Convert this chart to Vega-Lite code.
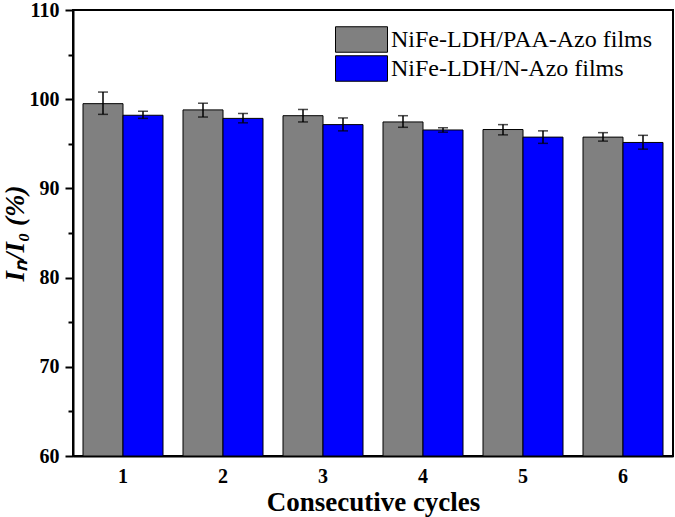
{
  "$schema": "https://vega.github.io/schema/vega-lite/v6.json",
  "width": 600,
  "height": 446,
  "autosize": {"type": "none"},
  "padding": {"left": 73, "top": 10, "right": 2, "bottom": 61},
  "background": "white",
  "config": {
    "view": {"stroke": "black", "strokeWidth": 2},
    "font": "Liberation Serif"
  },
  "data": {
    "values": [
      {"cycle": "1", "series": "NiFe-LDH/PAA-Azo films", "value": 99.5, "lo": 98.3, "hi": 100.8},
      {"cycle": "1", "series": "NiFe-LDH/N-Azo films", "value": 98.2, "lo": 97.85, "hi": 98.65},
      {"cycle": "2", "series": "NiFe-LDH/PAA-Azo films", "value": 98.8, "lo": 98.0, "hi": 99.55},
      {"cycle": "2", "series": "NiFe-LDH/N-Azo films", "value": 97.85, "lo": 97.35, "hi": 98.4},
      {"cycle": "3", "series": "NiFe-LDH/PAA-Azo films", "value": 98.15, "lo": 97.45, "hi": 98.85},
      {"cycle": "3", "series": "NiFe-LDH/N-Azo films", "value": 97.15, "lo": 96.45, "hi": 97.9},
      {"cycle": "4", "series": "NiFe-LDH/PAA-Azo films", "value": 97.45, "lo": 96.85, "hi": 98.15},
      {"cycle": "4", "series": "NiFe-LDH/N-Azo films", "value": 96.55, "lo": 96.3, "hi": 96.8},
      {"cycle": "5", "series": "NiFe-LDH/PAA-Azo films", "value": 96.6, "lo": 96.0, "hi": 97.15},
      {"cycle": "5", "series": "NiFe-LDH/N-Azo films", "value": 95.75, "lo": 95.05, "hi": 96.45},
      {"cycle": "6", "series": "NiFe-LDH/PAA-Azo films", "value": 95.75, "lo": 95.3, "hi": 96.25},
      {"cycle": "6", "series": "NiFe-LDH/N-Azo films", "value": 95.15, "lo": 94.4, "hi": 95.95}
    ]
  },
  "encoding": {
    "x": {
      "field": "cycle",
      "type": "nominal",
      "scale": {"paddingInner": 0.2, "paddingOuter": 0.1},
      "axis": {
        "title": "Consecutive cycles",
        "labelAngle": 0,
        "labelFont": "Liberation Serif",
        "labelFontSize": 20,
        "labelFontWeight": "bold",
        "labelColor": "black",
        "labelPadding": 10,
        "ticks": false,
        "domainColor": "black",
        "domainWidth": 2,
        "titleFont": "Liberation Serif",
        "titleFontSize": 27,
        "titleFontWeight": "bold",
        "titleColor": "black",
        "titlePadding": 3
      }
    },
    "xOffset": {
      "field": "series",
      "type": "nominal",
      "sort": ["NiFe-LDH/PAA-Azo films", "NiFe-LDH/N-Azo films"],
      "scale": {"paddingInner": 0, "paddingOuter": 0}
    }
  },
  "layer": [
    {
      "mark": {"type": "bar", "stroke": "black", "strokeWidth": 1},
      "encoding": {
        "y": {
          "field": "value",
          "type": "quantitative",
          "scale": {"domain": [60, 110], "nice": false, "zero": false},
          "axis": {
            "title": "Iₙ/I₀ (%)",
            "values": [60, 65, 70, 75, 80, 85, 90, 95, 100, 105, 110],
            "labelExpr": "datum.value % 10 === 0 ? datum.label : ''",
            "tickSize": {"condition": {"test": "datum.value % 10 === 0", "value": 8}, "value": 5},
            "tickColor": "black",
            "tickWidth": 2,
            "domainColor": "black",
            "domainWidth": 2,
            "grid": false,
            "labelFont": "Liberation Serif",
            "labelFontSize": 20,
            "labelFontWeight": "bold",
            "labelColor": "black",
            "labelPadding": 6,
            "titleFont": "Liberation Serif",
            "titleFontSize": 27,
            "titleFontWeight": "bold",
            "titleFontStyle": "italic",
            "titleColor": "black",
            "titlePadding": 0
          }
        },
        "y2": {"datum": 60},
        "fill": {
          "field": "series",
          "type": "nominal",
          "sort": ["NiFe-LDH/PAA-Azo films", "NiFe-LDH/N-Azo films"],
          "scale": {"range": ["#808080", "#0000ff"]},
          "legend": {
            "title": null,
            "orient": "none",
            "legendX": 275,
            "legendY": 16,
            "symbolType": "M-2,-0.98H2V0.98H-2Z",
            "symbolSize": 676,
            "symbolStrokeColor": "black",
            "symbolStrokeWidth": 1,
            "symbolOpacity": 1,
            "labelFont": "Liberation Serif",
            "labelFontSize": 24,
            "labelColor": "black",
            "labelOffset": 16,
            "labelLimit": 0,
            "rowPadding": -3
          }
        }
      }
    },
    {
      "mark": {"type": "rule", "color": "black", "strokeWidth": 1.5},
      "encoding": {
        "y": {"field": "lo", "type": "quantitative"},
        "y2": {"field": "hi"}
      }
    },
    {
      "mark": {"type": "tick", "color": "black", "thickness": 1.5, "size": 10, "orient": "horizontal"},
      "encoding": {
        "y": {"field": "lo", "type": "quantitative"}
      }
    },
    {
      "mark": {"type": "tick", "color": "black", "thickness": 1.5, "size": 10, "orient": "horizontal"},
      "encoding": {
        "y": {"field": "hi", "type": "quantitative"}
      }
    }
  ]
}
